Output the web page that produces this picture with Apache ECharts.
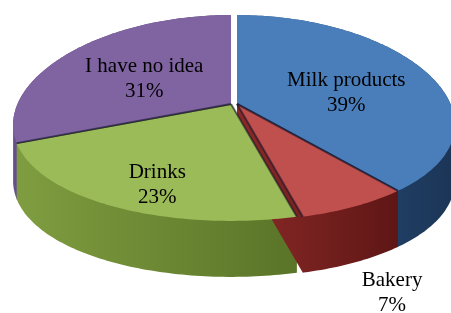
<!DOCTYPE html>
<html lang="en">
<head>
<meta charset="UTF-8">
<title>Pie</title>
<script src="https://cdn.jsdelivr.net/npm/echarts@6/dist/echarts.min.js"></script>
</head>
<body style="margin:0">
<div id="main" style="width:451px;height:313px"></div>
<script>
var names = ['Milk products', 'Bakery', 'Drinks', 'I have no idea'];
var values = [39, 7, 23, 31];
var topColors = ['#4a7ebb', '#c0504d', '#9bbb59', '#8064a2'];
var sideColors = [['#2c5486', '#1b3556'], ['#8a2a28', '#5e1615'], ['#7f9d40', '#5a7428'], ['#65508a', '#4a3a66']];
var exploded = [1, 1, 0, 0];

// look of the tilted pie (simple perspective: back smaller, front bigger)
var CX = 231, CY = 104, A = 213.5, B = 101, KX = 0.2, KY = 0.136, DEPTH = 56, SHIFT = 6;
var labelFrac = [0.565, 1.245, 0.67, 0.52];
var labelDy = [8, 57, 15, 3];

var total = values.reduce(function (a, b) { return a + b; }, 0);
var starts = [], ends = [];
var acc = 0;
values.forEach(function (v) {
    starts.push(acc / total * 360);
    acc += v;
    ends.push(acc / total * 360);
});

function pt(deg, f, dx, dy) {
    var r = deg * Math.PI / 180;
    var s = Math.sin(r), c = Math.cos(r);
    return [CX + dx + A * f * s / (1 + KX * f * c), CY + (dy || 0) - B * f * c / (1 + KY * f * c)];
}

function topPoly(i, dy) {
    var dx = exploded[i] ? SHIFT : 0;
    var pts = [pt(0, 0, dx, dy)];
    for (var a = starts[i]; a < ends[i]; a += 1) pts.push(pt(a, 1, dx, dy));
    pts.push(pt(ends[i], 1, dx, dy));
    return pts;
}

function hull(points) {
    var p = points.slice().sort(function (a, b) { return a[0] - b[0] || a[1] - b[1]; });
    function cross(o, a, b) { return (a[0] - o[0]) * (b[1] - o[1]) - (a[1] - o[1]) * (b[0] - o[0]); }
    var lower = [], upper = [];
    p.forEach(function (q) {
        while (lower.length >= 2 && cross(lower[lower.length - 2], lower[lower.length - 1], q) <= 0) lower.pop();
        lower.push(q);
    });
    for (var k = p.length - 1; k >= 0; k--) {
        var q = p[k];
        while (upper.length >= 2 && cross(upper[upper.length - 2], upper[upper.length - 1], q) <= 0) upper.pop();
        upper.push(q);
    }
    upper.pop(); lower.pop();
    return lower.concat(upper);
}

// back slices first, exploded ones last on ties
var order = values.map(function (v, i) { return i; }).sort(function (a, b) {
    var ka = -Math.cos((starts[a] + ends[a]) / 360 * Math.PI) + exploded[a] * 0.01;
    var kb = -Math.cos((starts[b] + ends[b]) / 360 * Math.PI) + exploded[b] * 0.01;
    return ka - kb;
});

var myChart = echarts.init(document.getElementById('main'));
var option = {
    backgroundColor: '#fff',
    animation: false,
    series: [
        {
            type: 'custom',
            coordinateSystem: 'none',
            z: 1,
            data: order.map(function (i) { return [values[i], i]; }),
            renderItem: function (params, api) {
                var i = api.value(1);
                var pts = topPoly(i, 0).concat(topPoly(i, DEPTH));
                return {
                    type: 'polygon',
                    shape: { points: hull(pts) },
                    style: {
                        fill: new echarts.graphic.LinearGradient(0, 0, 1, 0, [
                            { offset: 0, color: sideColors[i][0] },
                            { offset: 1, color: sideColors[i][1] }
                        ])
                    }
                };
            }
        },
        {
            type: 'custom',
            coordinateSystem: 'none',
            z: 2,
            data: values.map(function (v, i) { return [v, i]; }),
            renderItem: function (params, api) {
                var i = api.value(1);
                var dx = exploded[i] ? SHIFT : 0;
                var children = [{
                    type: 'polygon',
                    shape: { points: topPoly(i, 0) },
                    style: { fill: topColors[i] }
                }];
                [starts[i], ends[i]].forEach(function (a) {
                    if (Math.cos(a * Math.PI / 180) < 0) {
                        children.push({
                            type: 'polyline',
                            shape: { points: [pt(0, 0, dx), pt(a, 1, dx)] },
                            style: { stroke: 'rgba(20,20,40,0.6)', lineWidth: 2, fill: null }
                        });
                    }
                });
                var mid = (starts[i] + ends[i]) / 2;
                var lp = pt(mid, labelFrac[i], dx, labelDy[i]);
                children.push({
                    type: 'text',
                    x: lp[0],
                    y: lp[1],
                    style: {
                        text: names[i] + '\n' + api.value(0) + '%',
                        fill: '#000',
                        font: '21px "Liberation Serif"',
                        align: 'center',
                        verticalAlign: 'middle',
                        lineHeight: 25
                    }
                });
                return { type: 'group', children: children };
            }
        }
    ]
};
myChart.setOption(option);
</script>
</body>
</html>
